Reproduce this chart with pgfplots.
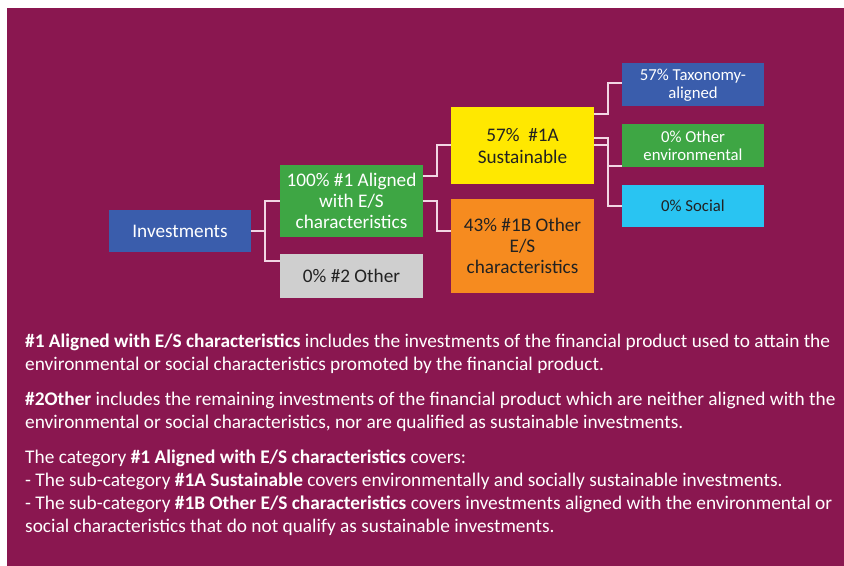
\documentclass[border=0pt]{standalone}
\usepackage{pgfplots}
\pgfplotsset{compat=1.18}
\usepackage{fontspec}
\setmainfont{Carlito}

\definecolor{bgmag}{HTML}{8A1750}
\definecolor{boxblue}{HTML}{3A5DAC}
\definecolor{boxgreen}{HTML}{3EA644}
\definecolor{boxgray}{HTML}{CFCFCF}
\definecolor{boxyellow}{HTML}{FFE800}
\definecolor{boxorange}{HTML}{F68B1F}
\definecolor{boxcyan}{HTML}{29C4F2}
\definecolor{linkcol}{HTML}{F2D6E4}
\definecolor{txtdark}{HTML}{222222}

\newcommand{\boxfont}{\fontsize{19.3}{21.3}\selectfont}
\newcommand{\smallboxfont}{\fontsize{16.8}{18}\selectfont}
\newcommand{\bodyfont}{\fontsize{19.4}{23}\selectfont}

\begin{document}
\begin{tikzpicture}
\begin{axis}[
    x=1bp, y=1bp,
    xmin=0, xmax=844, ymin=0, ymax=566,
    y dir=reverse,
    hide axis, scale only axis, clip=false,
]
% page and panel
\addplot[fill=white, draw=none] coordinates {(0,0) (844,0) (844,566) (0,566)};
\addplot[fill=bgmag, draw=none] coordinates {(7,8) (844,8) (844,566) (7,566)};

% connectors
\addplot[linkcol, line width=1.6bp] coordinates {(251,231) (265,231)};
\addplot[linkcol, line width=1.6bp] coordinates {(280,201) (265,201) (265,261) (280,261)};
\addplot[linkcol, line width=1.6bp] coordinates {(423,176) (437,176) (437,145) (451,145)};
\addplot[linkcol, line width=1.6bp] coordinates {(423,201) (437,201) (437,231) (451,231)};
\addplot[linkcol, line width=1.6bp] coordinates {(594,114) (608,114) (608,83) (622,83)};
\addplot[linkcol, line width=1.6bp] coordinates {(594,138) (608,138) (608,166) (622,166)};
\addplot[linkcol, line width=1.6bp] coordinates {(594,145) (608,145) (608,206) (622,206)};

% boxes
\addplot[fill=boxblue, draw=none] coordinates {(109,210) (251,210) (251,252) (109,252)};
\addplot[fill=boxgreen, draw=none] coordinates {(280,165) (423,165) (423,237) (280,237)};
\addplot[fill=boxgray, draw=none] coordinates {(280,254) (423,254) (423,298) (280,298)};
\addplot[fill=boxyellow, draw=none] coordinates {(451,107) (594,107) (594,184) (451,184)};
\addplot[fill=boxorange, draw=none] coordinates {(451,199) (594,199) (594,293) (451,293)};
\addplot[fill=boxblue, draw=none] coordinates {(622,63) (764,63) (764,106) (622,106)};
\addplot[fill=boxgreen, draw=none] coordinates {(622,124) (764,124) (764,167) (622,167)};
\addplot[fill=boxcyan, draw=none] coordinates {(622,185) (764,185) (764,227) (622,227)};

% box labels
\node[align=center, text=white, font=\boxfont] at (axis cs:180,231) {Investments};
\node[align=center, text=white, font=\boxfont] at (axis cs:351.5,201) {100\% \#1 Aligned\\with E/S\\characteristics};
\node[align=center, text=txtdark, font=\boxfont] at (axis cs:351.5,276) {0\% \#2 Other};
\node[align=center, text=txtdark, font=\boxfont] at (axis cs:522.5,146) {57\%~~\#1A\\Sustainable};
\node[align=center, text=txtdark, font=\boxfont] at (axis cs:522.5,246) {43\% \#1B Other\\E/S\\characteristics};
\node[align=center, text=white, font=\smallboxfont] at (axis cs:693,85) {57\% Taxonomy-\\aligned};
\node[align=center, text=white, font=\smallboxfont] at (axis cs:693,145.5) {0\% Other\\environmental};
\node[align=center, text=txtdark, font=\smallboxfont] at (axis cs:693,206) {0\% Social};

% explanatory text
\begin{scope}[every node/.style={anchor=west, text=white, font=\bodyfont, inner sep=0pt}]
\node at (axis cs:25,342) {\textbf{\#1 Aligned with E/S characteristics} includes the investments of the financial product used to attain the};
\node at (axis cs:25,365) {environmental or social characteristics promoted by the financial product.};
\node at (axis cs:25,400) {\textbf{\#2Other} includes the remaining investments of the financial product which are neither aligned with the};
\node at (axis cs:25,423) {environmental or social characteristics, nor are qualified as sustainable investments.};
\node at (axis cs:25,458) {The category \textbf{\#1 Aligned with E/S characteristics} covers:};
\node at (axis cs:25,481) {- The sub-category \textbf{\#1A Sustainable} covers environmentally and socially sustainable investments.};
\node at (axis cs:25,504) {- The sub-category \textbf{\#1B Other E/S characteristics} covers investments aligned with the environmental or};
\node at (axis cs:25,527) {social characteristics that do not qualify as sustainable investments.};
\end{scope}
\end{axis}
\end{tikzpicture}
\end{document}
